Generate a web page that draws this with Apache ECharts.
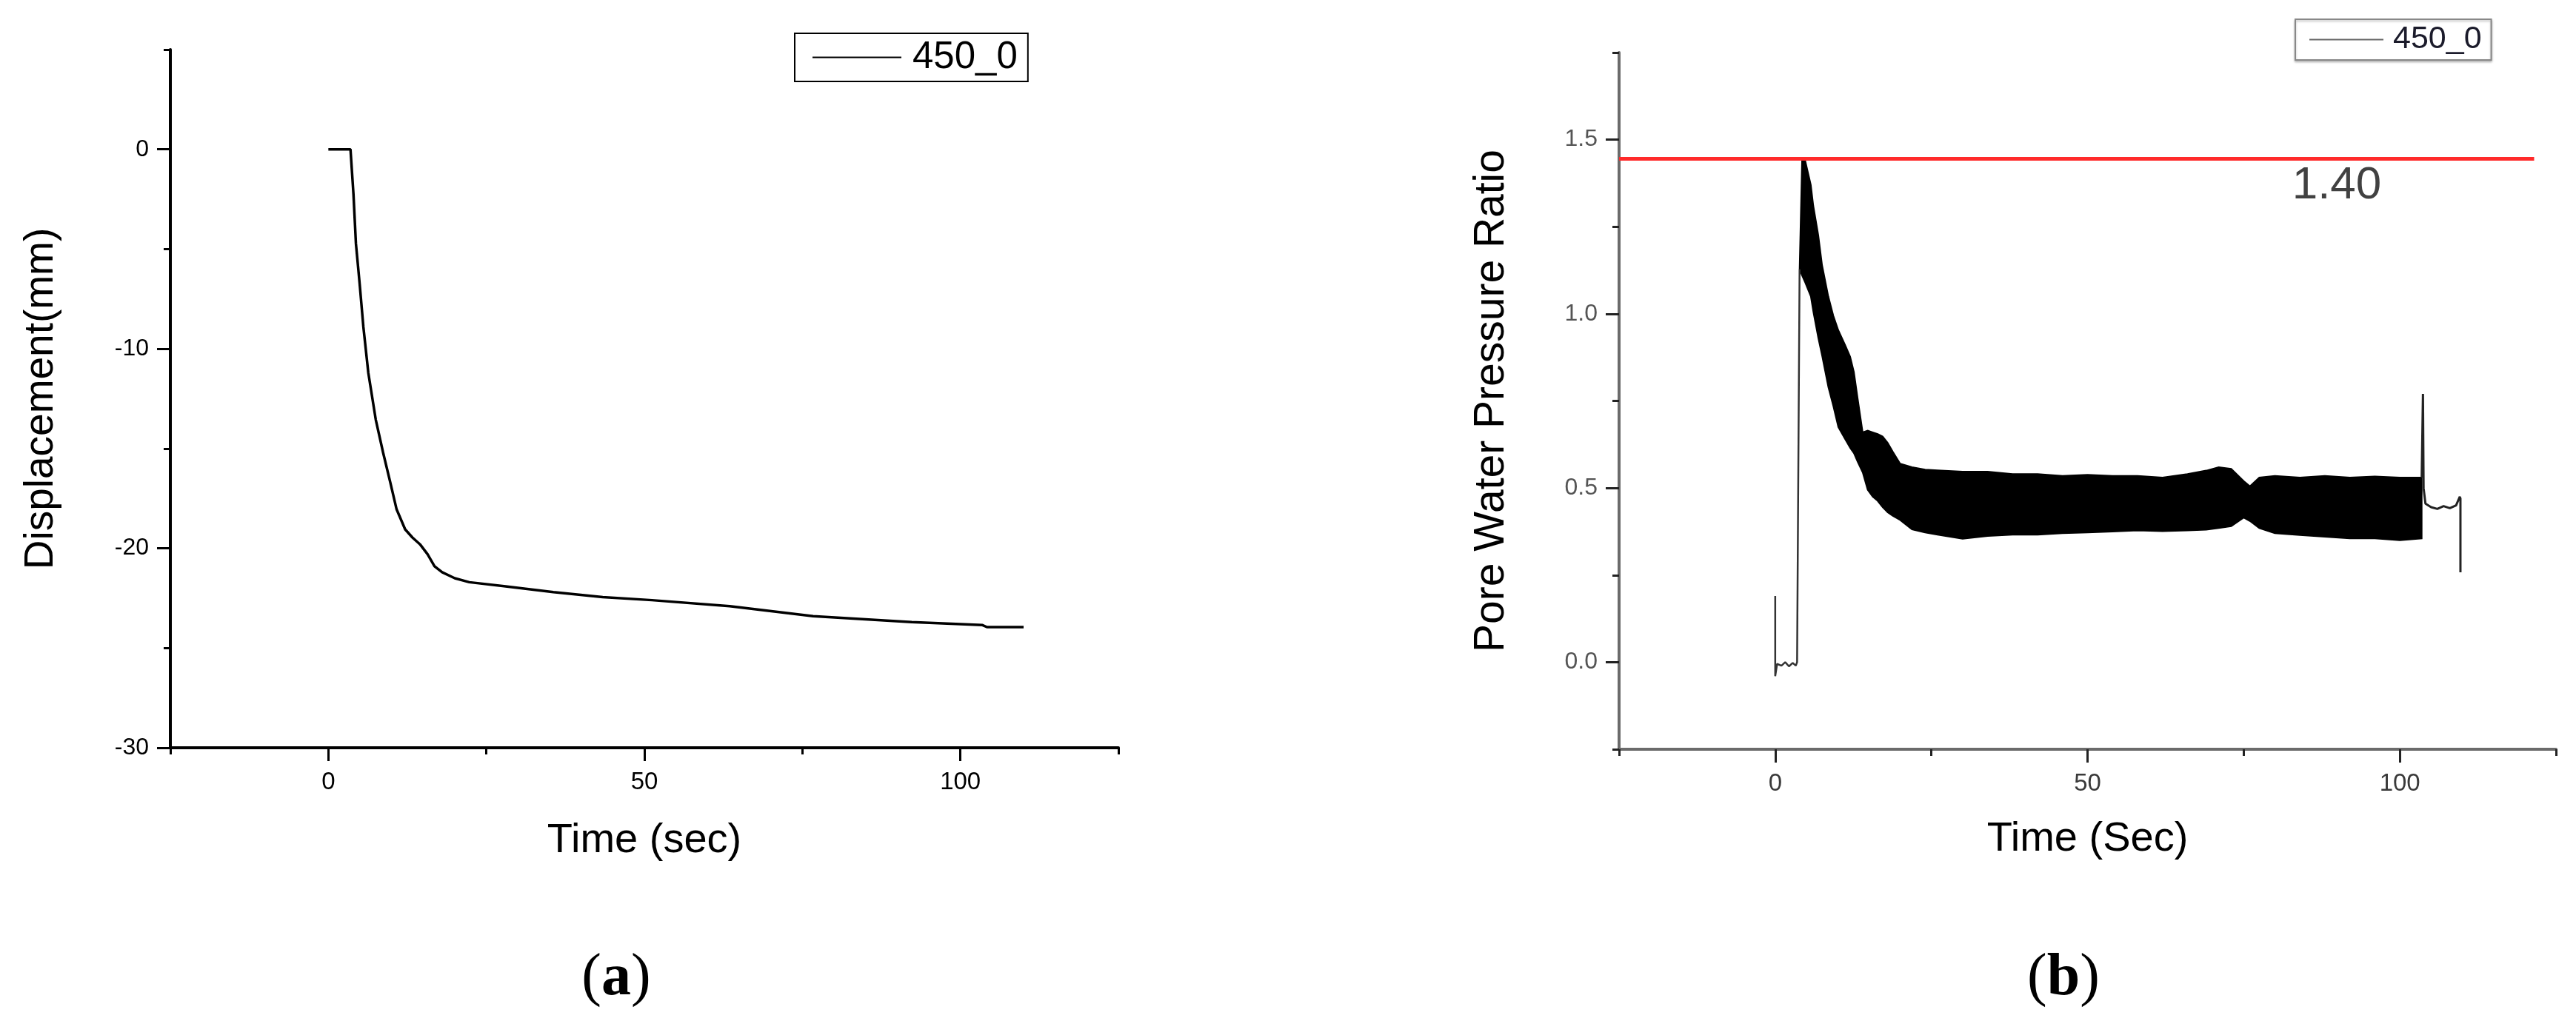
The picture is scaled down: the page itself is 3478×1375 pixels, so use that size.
<!DOCTYPE html>
<html>
<head>
<meta charset="utf-8">
<title>450_0 displacement / pore water pressure ratio</title>
<script src="https://cdn.jsdelivr.net/npm/echarts@6/dist/echarts.min.js"></script>
<style>
  html, body { margin: 0; padding: 0; background: #fff; }
  #main { width: 3478px; height: 1375px; }
</style>
</head>
<body>
<div id="main"></div>
<script>
// (a) displacement curve
var dispTime = [0, 3.5, 3.97, 4.36, 4.95, 5.54, 6.32, 7.5, 8.66, 9.8, 10.8, 12.15, 13.3, 14.5, 15.7, 16.8, 18.0, 20.0, 22.3, 27.8, 35.6, 43.4, 51.2, 63.5, 76.7, 92.3, 103.5, 104.2, 110];
var dispValue = [0, 0, -2.23, -4.72, -6.73, -8.9, -11.2, -13.55, -15.2, -16.7, -18.05, -19.05, -19.46, -19.8, -20.3, -20.9, -21.2, -21.5, -21.7, -21.9, -22.2, -22.45, -22.6, -22.9, -23.4, -23.7, -23.85, -23.95, -23.95];

// (b) pore water pressure ratio: the dense oscillation is drawn as a band between its envelopes
var bandTime = [3.9, 4.3, 4.8, 5.7, 6.1, 6.9, 7.5, 8.5, 9.3, 10.1, 11.2, 12.0, 12.6, 13.2, 14.0, 14.8, 15.6, 16.4, 17.2, 18.0, 18.8, 20.0, 21.9, 24, 26, 30, 34, 38, 42, 46, 50, 54, 58, 62, 66, 69, 71, 73, 75, 76, 77.5, 80, 84, 88, 92, 96, 100, 103.5];
var bandUpper = [1.13, 1.445, 1.44, 1.37, 1.31, 1.225, 1.14, 1.05, 0.995, 0.953, 0.91, 0.877, 0.833, 0.757, 0.66, 0.665, 0.66, 0.655, 0.648, 0.63, 0.605, 0.57, 0.56, 0.553, 0.551, 0.547, 0.547, 0.54, 0.54, 0.535, 0.538, 0.535, 0.535, 0.53, 0.54, 0.55, 0.56, 0.555, 0.52, 0.505, 0.53, 0.535, 0.53, 0.535, 0.53, 0.533, 0.53, 0.53];
var bandLower = [1.128, 1.11, 1.09, 1.05, 1.006, 0.93, 0.88, 0.79, 0.735, 0.675, 0.64, 0.615, 0.6, 0.575, 0.545, 0.495, 0.475, 0.463, 0.445, 0.43, 0.42, 0.408, 0.381, 0.372, 0.366, 0.354, 0.362, 0.366, 0.366, 0.37, 0.372, 0.375, 0.378, 0.376, 0.378, 0.38, 0.385, 0.39, 0.415, 0.405, 0.385, 0.37, 0.365, 0.36, 0.355, 0.355, 0.35, 0.355];

var preTime = [0, 0, 0.3, 1.0, 1.6, 2.2, 2.8, 3.3, 3.5, 3.9];
var preValue = [0.19, -0.04, -0.005, -0.01, 0.0, -0.012, -0.002, -0.01, 0.0, 1.128];

var postTime = [103.5, 103.7, 103.8, 104.1, 105, 106, 107, 108, 109, 109.6, 109.7, 109.7];
var postValue = [0.53, 0.77, 0.5, 0.455, 0.445, 0.44, 0.448, 0.442, 0.45, 0.475, 0.47, 0.258];

var limitLevel = 1.445;
var limitSpan = [-25, 121.5];
var limitText = '1.40';
var limitTextAt = [89.9, 1.367];

// tick labels
var timeMajor = [0, 50, 100];
var dispMajor = [-30, -20, -10, 0];
var ratioMajor = [0, 0.5, 1.0, 1.5];

var FONT = 'Liberation Sans, Arial, sans-serif';

function zip(xs, ys) {
  return xs.map(function (x, i) { return [x, ys[i]]; });
}

var chart = echarts.init(document.getElementById('main'), null, { renderer: 'canvas' });

// main axis: line, labels and short ticks; overlay axis: long ticks at labelled values
function xAxes(grid, lineColor, tickColor, labelColor, name) {
  return [{
    type: 'value', gridIndex: grid, position: 'bottom',
    min: -25, max: 125, interval: 25,
    splitLine: { show: false },
    axisLine: { onZero: false, lineStyle: { color: lineColor, width: 4 } },
    axisTick: { length: 9, lineStyle: { color: tickColor, width: 3 } },
    axisLabel: { customValues: timeMajor, margin: 30, fontSize: 33, color: labelColor, fontFamily: FONT },
    name: name, nameLocation: 'middle', nameGap: grid === 0 ? 98 : 94,
    nameTextStyle: { fontSize: 56, color: '#000', fontFamily: FONT }
  }, {
    type: 'value', gridIndex: grid, position: 'bottom',
    min: -25, max: 125,
    splitLine: { show: false },
    axisLine: { show: false, onZero: false },
    axisTick: { customValues: timeMajor, length: 18, lineStyle: { color: tickColor, width: 3 } },
    axisLabel: { show: false }
  }];
}

function yAxes(grid, min, max, step, major, fmt, lineColor, tickColor, labelColor, name, gap, size) {
  return [{
    type: 'value', gridIndex: grid, position: 'left',
    min: min, max: max, interval: step,
    splitLine: { show: false },
    axisLine: { onZero: false, lineStyle: { color: lineColor, width: 4 } },
    axisTick: { length: 9, lineStyle: { color: tickColor, width: 3 } },
    axisLabel: { customValues: major, formatter: fmt, margin: 29, fontSize: 32, color: labelColor, fontFamily: FONT },
    name: name, nameLocation: 'middle', nameGap: gap,
    nameTextStyle: { fontSize: size, color: '#000', fontFamily: FONT }
  }, {
    type: 'value', gridIndex: grid, position: 'left',
    min: min, max: max,
    splitLine: { show: false },
    axisLine: { show: false, onZero: false },
    axisTick: { customValues: major, length: 18, lineStyle: { color: tickColor, width: 3 } },
    axisLabel: { show: false }
  }];
}

// the whole band is one polygon: upper envelope forward, lower envelope back
function renderBand(params, api) {
  if (params.dataIndex !== 0) return;
  var pts = [];
  for (var i = 0; i < bandTime.length; i++) pts.push(api.coord([bandTime[i], bandUpper[i]]));
  for (var j = bandTime.length - 1; j >= 0; j--) pts.push(api.coord([bandTime[j], bandLower[j]]));
  return {
    type: 'polygon',
    shape: { points: pts },
    style: { fill: '#000', stroke: '#000', lineWidth: 2 }
  };
}

var option = {
  animation: false,
  backgroundColor: '#fff',
  grid: [
    { left: 230, top: 67, width: 1280, height: 943 },
    { left: 2186, top: 71, width: 1265, height: 941 }
  ],
  xAxis: xAxes(0, '#000', '#000', '#000', 'Time (sec)')
    .concat(xAxes(1, '#6b6b6b', '#222', '#3a3a3a', 'Time (Sec)')),
  yAxis: yAxes(0, -30, 5, 5, dispMajor, function (v) { return String(v); },
      '#000', '#000', '#000', 'Displacement(mm)', 147, 55)
    .concat(yAxes(1, -0.25, 1.75, 0.25, ratioMajor, function (v) { return v.toFixed(1); },
      '#6b6b6b', '#222', '#555', 'Pore Water Pressure Ratio', 143, 57)),
  legend: [{
    data: ['450_0'], left: 1073, top: 45, selectedMode: false,
    icon: 'rect', padding: [7, 14, 7, 24], itemWidth: 120, itemHeight: 2,
    borderColor: '#000', borderWidth: 2, backgroundColor: '#fff',
    itemStyle: { color: '#000' },
    textStyle: { fontSize: 51, color: '#000', fontFamily: FONT, padding: [0, 0, 0, 10] }
  }, {
    data: ['450_0'], left: 3099, top: 26, selectedMode: false,
    icon: 'rect', padding: [6, 13, 6, 19], itemWidth: 100, itemHeight: 2,
    borderColor: '#888', borderWidth: 2, backgroundColor: '#fff',
    shadowColor: 'rgba(0,0,0,0.25)', shadowBlur: 3, shadowOffsetY: 2,
    itemStyle: { color: '#666' },
    textStyle: { fontSize: 43, color: '#1b1b2b', fontFamily: FONT, padding: [0, 0, 0, 8] }
  }],
  graphic: [{
    type: 'text', x: 832, y: 1322,
    style: {
      text: '{p|(}{b|a}{p|)}', align: 'center', verticalAlign: 'middle',
      rich: {
        p: { fontSize: 80, fontFamily: 'Liberation Serif, serif', fill: '#000' },
        b: { fontSize: 80, fontWeight: 'bold', fontFamily: 'Liberation Serif, serif', fill: '#000' }
      }
    }
  }, {
    type: 'text', x: 2786, y: 1322,
    style: {
      text: '{p|(}{b|b}{p|)}', align: 'center', verticalAlign: 'middle',
      rich: {
        p: { fontSize: 80, fontFamily: 'Liberation Serif, serif', fill: '#000' },
        b: { fontSize: 80, fontWeight: 'bold', fontFamily: 'Liberation Serif, serif', fill: '#000' }
      }
    }
  }],
  series: [{
    name: '450_0', type: 'line', xAxisIndex: 0, yAxisIndex: 0,
    data: zip(dispTime, dispValue), symbol: 'none',
    itemStyle: { color: '#000' },
    lineStyle: { color: '#000', width: 3.5 }
  }, {
    name: 'band', type: 'custom', xAxisIndex: 2, yAxisIndex: 2,
    data: zip(bandTime, bandUpper), encode: { x: 0, y: 1 },
    renderItem: renderBand, clip: true
  }, {
    name: 'start', type: 'line', xAxisIndex: 2, yAxisIndex: 2,
    data: zip(preTime, preValue), symbol: 'none',
    lineStyle: { color: '#333', width: 2.5 }
  }, {
    name: 'end', type: 'line', xAxisIndex: 2, yAxisIndex: 2,
    data: zip(postTime, postValue), symbol: 'none',
    lineStyle: { color: '#222', width: 3 }
  }, {
    name: 'limit', type: 'line', xAxisIndex: 2, yAxisIndex: 2, z: 5,
    data: [[limitSpan[0], limitLevel], [limitSpan[1], limitLevel]], symbol: 'none',
    lineStyle: { color: '#ff2a2a', width: 5 }
  }, {
    name: 'limit label', type: 'scatter', xAxisIndex: 2, yAxisIndex: 2, z: 6,
    data: [limitTextAt], symbolSize: 0,
    label: { show: true, position: 'inside', formatter: limitText, fontSize: 62, color: '#111', fontFamily: FONT }
  }]
};

chart.setOption(option);
</script>
</body>
</html>
